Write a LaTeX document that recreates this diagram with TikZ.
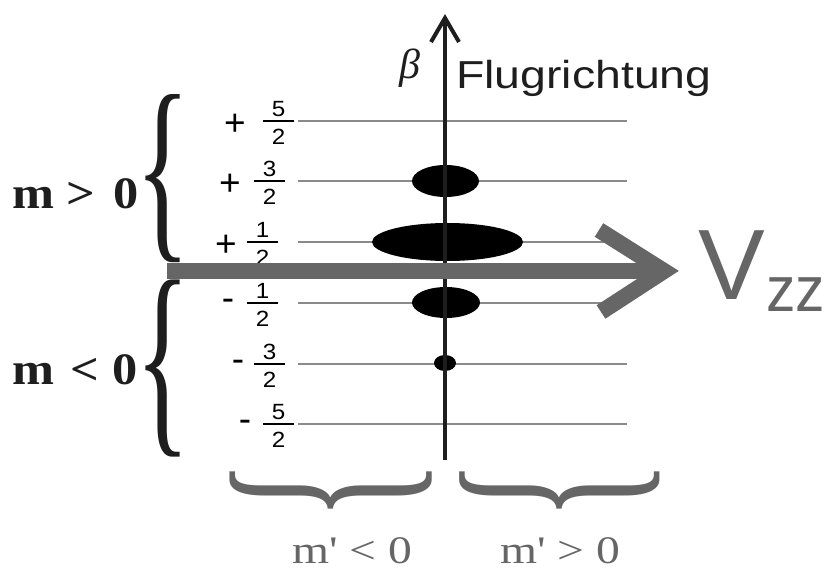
\documentclass[tikz,border=0pt]{standalone}
\usepackage{fontspec}
\setmainfont{Liberation Sans}
\newfontfamily\serifrm{Liberation Serif}
\usetikzlibrary{calc}
\definecolor{dk}{HTML}{1E1E1E}
\definecolor{gr}{HTML}{666666}
\definecolor{thin}{HTML}{8A8A8A}
\newcommand{\fs}[1]{\fontsize{#1}{#1}\selectfont}
\newcommand{\hx}[2]{\scalebox{#1}[1]{#2}}
\tikzset{
  lvl/.style={draw=thin, line width=1.3pt},
  axisline/.style={draw=dk, line width=4pt},
  vzzline/.style={draw=gr, line width=16pt},
  dig/.style={inner sep=0pt, font=\fs{22}},
  sgn/.style={inner sep=0pt, font=\fs{37}},
  txt/.style={inner sep=0pt},
  barline/.style={draw=black, line width=1.5pt},
}
% name, sign, yshift, sign x, bar x1, bar x2, y, numerator
\newcommand{\frc}[8]{%
  \node[sgn, yshift=#3] (#1s) at (#4,#7) {#2};
  \coordinate (#1a) at (#5,#7); \coordinate (#1b) at (#6,#7);
  \draw[barline] (#1a) -- (#1b);
  \node[dig] (#1n) at ($(#1a)!0.5!(#1b)+(0,-12)$) {\hx{1.1}{#8}};
  \node[dig] (#1d) at ($(#1a)!0.5!(#1b)+(0,15.5)$) {\hx{1.1}{2}};
}
\begin{document}
\begin{tikzpicture}[x=1pt,y=-1pt]
\useasboundingbox (0,0) rectangle (828,569);
% level lines
\foreach \n/\y in {a/121,b/181,c/242,d/303,e/364,f/424} {
  \coordinate (L\n) at (298,\y); \coordinate (R\n) at (627,\y);
  \draw[lvl] (L\n) -- (R\n);
}
% populations
\fill[black] (445.5,181) ellipse [x radius=33.5, y radius=16];
\fill[black] (447.5,242) ellipse [x radius=75.5, y radius=19];
\fill[black] (446,302.5) ellipse [x radius=34, y radius=15.5];
\fill[black] (445,363) ellipse [x radius=11, y radius=8];
% vertical axis
\coordinate (ybot) at (445,460);
\coordinate (ytop) at (445,18);
\draw[axisline] (ybot) -- (ytop);
\draw[axisline, miter limit=10] ($(ytop)+(-14,24)$) -- (ytop) -- ($(ytop)+(14,24)$);
% fractions
\frc{fa}{+}{-4pt}{235}{263}{294}{121}{5}
\frc{fb}{+}{-4pt}{230}{254}{285}{181}{3}
\frc{fc}{+}{-4pt}{226}{247}{278}{242}{1}
\frc{fd}{-}{-2pt}{228}{247}{278}{303}{1}
\frc{fe}{-}{-2pt}{238}{254}{285}{364}{3}
\frc{ff}{-}{-2pt}{245}{263}{294}{424}{5}
% left braces
\node[txt, text=dk] (bu) at (162.7,179) {\serifrm\resizebox*{55pt}{168pt}{\{}};
\node[txt, text=dk] (bd) at (162.7,368.5) {\serifrm\resizebox*{55pt}{177pt}{\{}};
\node[txt, anchor=base west, text=dk] (mp) at (12,209) {\serifrm\bfseries\fs{45}\hx{1.12}{m >\hspace{16pt}0}};
\node[txt, anchor=base west, text=dk] (mn) at (12,385) {\serifrm\bfseries\fs{45}\hx{1.12}{m\hspace{15pt}< 0}};
% bottom braces
\node[txt, text=gr] (bl) at (331,490) {\serifrm\rotatebox{90}{\resizebox*{60pt}{202pt}{\{}}};
\node[txt, text=gr] (br) at (560,490) {\serifrm\rotatebox{90}{\resizebox*{60pt}{200pt}{\{}}};
\node[txt, anchor=base, text=gr] (ml) at (352.5,563) {\serifrm\fs{39}\hx{1.22}{m\textquotesingle{} < 0}};
\node[txt, anchor=base, text=gr] (mr) at (560,563) {\serifrm\fs{39}\hx{1.22}{m\textquotesingle{} > 0}};
% axis labels
\node[txt, anchor=base, text=dk] (beta) at (410,79) {\serifrm\itshape\fs{42}β};
\node[txt, anchor=base west, text=dk] (flug) at (456,89) {\fs{39}\hx{1.19}{Flugrichtung}};
% thick Vzz arrow
\coordinate (vs) at (167,271);
\coordinate (ve) at (664,271);
\draw[vzzline] (vs) -- (ve);
\draw[vzzline, miter limit=10] ($(ve)+(-65,-41)$) -- (ve) -- ($(ve)+(-63,41)$);
\node[txt, anchor=base west, text=gr] (V) at (698,300) {\fs{100}V};
\node[txt, anchor=base west, text=gr] (zz) at (766,312) {\fs{64}\hx{0.92}{zz}};
\end{tikzpicture}
\end{document}
